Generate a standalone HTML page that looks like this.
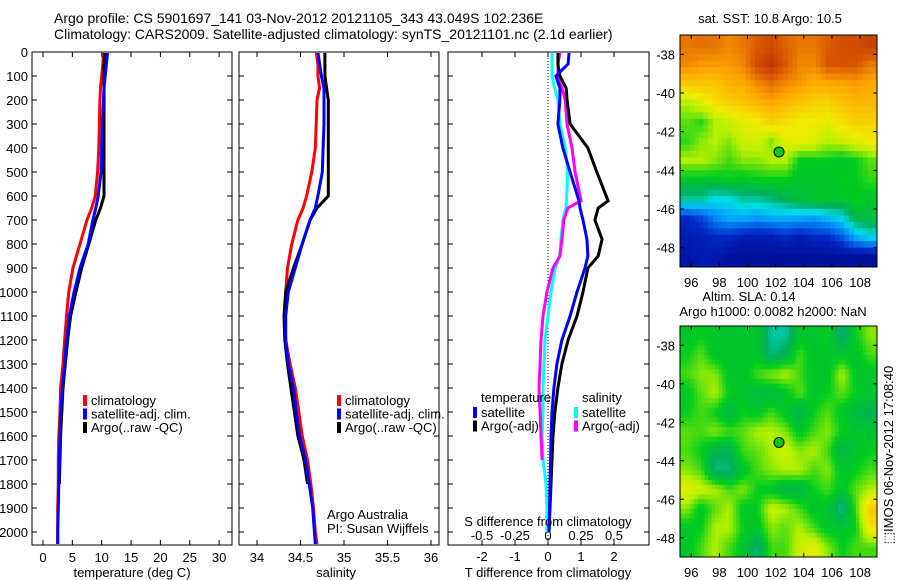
<!DOCTYPE html>
<html><head><meta charset="utf-8">
<style>
html,body{margin:0;padding:0;background:#fff;}
svg{display:block;font-family:"Liberation Sans",sans-serif;}
text{font-size:13px;fill:#000;}
</style></head>
<body>
<svg id="chart" width="900" height="580" viewBox="0 0 900 580">
<defs>
<clipPath id="clipM1"><rect x="680" y="35" width="197" height="232"/></clipPath>
<clipPath id="clipM2"><rect x="680" y="326" width="197" height="231"/></clipPath>
<clipPath id="clipP1"><rect x="33" y="53" width="199" height="492"/></clipPath>
<clipPath id="clipP2"><rect x="240" y="53" width="199" height="492"/></clipPath>
<clipPath id="clipP3"><rect x="449" y="53" width="200" height="492"/></clipPath>
</defs>
<text x="54" y="23" style="font-size:14px">Argo profile: CS 5901697_141 03-Nov-2012 20121105_343 43.049S 102.236E</text>
<text x="54" y="39" style="font-size:14px">Climatology: CARS2009. Satellite-adjusted climatology: synTS_20121101.nc (2.1d earlier)</text>
<g id="p1"></g>
<g id="p2"></g>
<g id="p3"></g>
<g id="m1"></g>
<g id="m2"></g>
<text x="770" y="23" text-anchor="middle">sat. SST: 10.8 Argo: 10.5</text>
<text x="749" y="301" text-anchor="middle">Altim. SLA: 0.14</text>
<text x="773" y="316" text-anchor="middle">Argo h1000: 0.0082 h2000: NaN</text>
<text transform="translate(893,455) rotate(-90)" text-anchor="middle">⬚IMOS 06-Nov-2012 17:08:40</text>
</svg>
<script>
// ---- profile data ----
const depthT = [0,50,100,150,200,300,400,500,600,650,700,800,900,1000,1100,1200,1300,1400,1500,1600,1700,1800,1900,2000,2050];
const tempClim = [10.3,10.2,10.0,9.8,9.7,9.6,9.5,9.3,8.9,8.3,7.5,6.3,5.1,4.4,4.0,3.7,3.4,3.0,2.9,2.7,2.6,2.6,2.5,2.5,2.5];
const tempSat  = [11.0,10.8,10.6,10.4,10.3,10.1,10.0,9.9,9.4,9.0,8.5,7.7,6.3,5.3,4.5,4.0,3.7,3.3,3.0,2.9,2.8,2.7,2.6,2.5,2.5];
const tempArgo = [10.5,10.4,10.4,10.4,10.4,10.4,10.4,10.4,10.4,9.8,9.0,7.8,6.6,5.6,4.7,4.2,3.8,3.4,3.2,3.0,2.9,2.8,null,null,null];
const salClim = [34.68,34.70,34.70,34.72,34.69,34.68,34.67,34.63,34.57,34.53,34.47,34.40,34.35,34.33,34.32,34.33,34.38,34.44,34.48,34.52,34.58,34.62,34.65,34.67,34.69];
const salSat  = [34.70,34.72,34.74,34.77,34.77,34.77,34.76,34.75,34.70,34.67,34.61,34.52,34.44,34.36,34.33,34.33,34.36,34.42,34.45,34.49,34.56,34.60,34.64,34.66,34.67];
const salArgo = [34.78,34.78,34.78,34.80,34.82,34.82,34.82,34.82,34.82,34.69,34.61,34.52,34.42,34.33,34.31,34.32,34.35,34.39,34.43,34.47,34.54,34.58,null,null,null];
const depthD = [0,50,100,150,200,300,400,500,620,650,700,780,850,900,1000,1100,1200,1300,1400,1500,1600,1700,1800,1900,2000];
const dTsat  = [0.64,0.61,0.24,0.36,0.36,0.30,0.45,0.67,0.94,0.97,1.06,1.18,1.21,1.12,0.88,0.67,0.42,0.27,0.18,0.12,0.09,0.08,0.06,0.05,0.03];
const dTargo = [0.30,0.30,0.36,0.55,0.58,0.67,1.21,1.48,1.82,1.52,1.42,1.64,1.52,1.21,1.06,0.88,0.61,0.42,0.30,0.21,0.15,0.12,0.09,0.06,0.03];
const dSsat  = [0.03,0.03,0.03,0.05,0.076,0.09,0.13,0.15,0.14,0.136,0.114,0.098,0.09,0.053,0.023,0,-0.023,-0.03,-0.038,-0.038,-0.045,-0.038,-0.015,-0.008,-0.008];
const dSargo = [0.09,0.076,0.076,0.106,0.13,0.144,0.182,0.205,0.25,0.15,0.12,0.106,0.09,0.038,-0.008,-0.038,-0.053,-0.06,-0.068,-0.06,-0.053,-0.045,null,null,null];
const depthTicks = [0,100,200,300,400,500,600,700,800,900,1000,1100,1200,1300,1400,1500,1600,1700,1800,1900,2000];
const tempTicks = [0,5,10,15,20,25,30];
const salTicks = [34,34.5,35,35.5,36];
const dTTicks = [-2,-1,0,1,2];
const dSTicks = [-0.5,-0.25,0,0.25,0.5];
const dSTickLabels = ['-0.5','-0.25','0','0.25','0.5'];
const lonTicks = [96,98,100,102,104,106,108];
const latTicks = [-38,-40,-42,-44,-46,-48];
const sstGrid = [
[0.82,0.83,0.82,0.80,0.82,0.85,0.88,0.84,0.82,0.82,0.85,0.87,0.88,0.90],
[0.80,0.78,0.78,0.78,0.80,0.88,0.92,0.86,0.80,0.80,0.86,0.86,0.86,0.82],
[0.72,0.72,0.72,0.75,0.76,0.80,0.83,0.80,0.78,0.75,0.76,0.77,0.78,0.76],
[0.60,0.64,0.68,0.70,0.72,0.74,0.76,0.74,0.72,0.70,0.70,0.72,0.74,0.74],
[0.56,0.54,0.60,0.62,0.65,0.66,0.70,0.68,0.66,0.66,0.65,0.68,0.70,0.70],
[0.54,0.58,0.60,0.58,0.62,0.63,0.58,0.64,0.65,0.64,0.60,0.62,0.64,0.66],
[0.60,0.60,0.58,0.55,0.58,0.58,0.60,0.60,0.52,0.52,0.52,0.50,0.52,0.56],
[0.50,0.50,0.50,0.52,0.50,0.52,0.52,0.52,0.50,0.50,0.50,0.52,0.52,0.54],
[0.40,0.40,0.36,0.36,0.40,0.40,0.42,0.45,0.48,0.50,0.50,0.50,0.52,0.50],
[0.15,0.18,0.26,0.30,0.30,0.28,0.30,0.30,0.30,0.28,0.32,0.35,0.46,0.48],
[0.10,0.12,0.14,0.14,0.10,0.10,0.10,0.14,0.10,0.14,0.14,0.20,0.30,0.34],
[0.08,0.10,0.10,0.06,0.06,0.06,0.06,0.06,0.06,0.06,0.06,0.06,0.06,0.06]];
const slaGrid = [
[0.50,0.52,0.50,0.50,0.50,0.50,0.40,0.40,0.50,0.50,0.52,0.42,0.52,0.58],
[0.52,0.56,0.50,0.50,0.50,0.50,0.42,0.45,0.55,0.50,0.50,0.50,0.50,0.55],
[0.55,0.58,0.58,0.50,0.50,0.55,0.58,0.60,0.55,0.50,0.50,0.60,0.50,0.50],
[0.50,0.56,0.60,0.52,0.50,0.48,0.47,0.50,0.56,0.50,0.52,0.56,0.52,0.50],
[0.52,0.55,0.52,0.46,0.52,0.50,0.55,0.50,0.45,0.52,0.56,0.50,0.47,0.45],
[0.56,0.55,0.58,0.55,0.56,0.60,0.60,0.58,0.50,0.55,0.58,0.52,0.50,0.50],
[0.55,0.52,0.45,0.45,0.55,0.56,0.60,0.62,0.58,0.60,0.55,0.45,0.50,0.52],
[0.58,0.55,0.42,0.42,0.50,0.55,0.58,0.60,0.60,0.55,0.58,0.50,0.52,0.55],
[0.65,0.62,0.60,0.55,0.58,0.52,0.50,0.46,0.46,0.52,0.55,0.50,0.56,0.60],
[0.58,0.50,0.56,0.60,0.50,0.52,0.62,0.60,0.55,0.50,0.50,0.40,0.55,0.72],
[0.50,0.52,0.60,0.60,0.52,0.50,0.58,0.56,0.60,0.55,0.50,0.50,0.52,0.68],
[0.50,0.55,0.60,0.55,0.50,0.42,0.55,0.55,0.62,0.65,0.58,0.52,0.55,0.55]];
const argoLon = 102.236, argoLat = -43.049;

const NS='http://www.w3.org/2000/svg';
function mk(parent,tag,attrs){const e=document.createElementNS(NS,tag);for(const k in attrs)e.setAttribute(k,attrs[k]);parent.appendChild(e);return e;}
const Y0=52, PXD=0.24;
const yD=d=>Y0+d*PXD;
const xT=v=>43+v*5.87;
const xS=v=>257+(v-34)*87;
const xDT=v=>548+v*33;
const xDS=v=>548+v*132;

function frame(g,x0,x1,y0,y1,name){
  const r=mk(g,'rect',{x:x0,y:y0,width:x1-x0,height:y1-y0,fill:'none',stroke:'#000','stroke-width':1});
  
  
}
function line(g,xs,ds,fx,color,name,clip){
  let segs=[],cur=[];
  for(let i=0;i<xs.length;i++){
    if(xs[i]===null){if(cur.length)segs.push(cur);cur=[];continue;}
    cur.push(fx(xs[i]).toFixed(1)+','+yD(ds[i]).toFixed(1));
  }
  if(cur.length)segs.push(cur);
  segs.forEach(s=>{
    const p=mk(g,'polyline',{points:s.join(' '),fill:'none',stroke:color,'stroke-width':3,'clip-path':'url(#'+clip+')'});
    
    
  });
}
function yTicks(g,x0,x1){
  depthTicks.forEach(d=>{
    mk(g,'line',{x1:x0,x2:x0+5,y1:yD(d),y2:yD(d),stroke:'#000'});
    mk(g,'line',{x1:x1-5,x2:x1,y1:yD(d),y2:yD(d),stroke:'#000'});
  });
}
function xTicks(g,ticks,fx,labels,ly,name){
  ticks.forEach((v,i)=>{
    const x=fx(v);
    mk(g,'line',{x1:x,x2:x,y1:545,y2:540,stroke:'#000'});
    mk(g,'line',{x1:x,x2:x,y1:52,y2:57,stroke:'#000'});
    if(ly){const t=mk(g,'text',{x:x,y:ly,'text-anchor':'middle'});t.textContent=labels[i];
      
      }
  });
}
function legend(g,x,y,items){
  items.forEach((it,i)=>{
    mk(g,'rect',{x:x,y:y+i*13.5-10,width:4,height:11,fill:it[0]});
    const t=mk(g,'text',{x:x+8,y:y+i*13.5});t.textContent=it[1];
    
    
  });
}
// Panel 1
const p1=document.getElementById('p1');
frame(p1,32,232,52,545,'temperature-axes');
yTicks(p1,32,232);
depthTicks.forEach(d=>{const t=mk(p1,'text',{x:28,y:yD(d)+5,'text-anchor':'end'});t.textContent=d;
  
  });
xTicks(p1,tempTicks,xT,tempTicks.map(String),562,'temperature-tick-label');
line(p1,tempClim,depthT,xT,'#f00','temperature-climatology-line','clipP1');
line(p1,tempArgo,depthT,xT,'#000','temperature-argo-line','clipP1');
line(p1,tempSat,depthT,xT,'#00f','temperature-satellite-line','clipP1');
legend(p1,83,405,[['#f00','climatology'],['#00f','satellite-adj. clim.'],['#000','Argo(..raw -QC)']]);
{const t=mk(p1,'text',{x:132,y:577,'text-anchor':'middle'});t.textContent='temperature (deg C)';

}
// Panel 2
const p2=document.getElementById('p2');
frame(p2,239,439,52,545,'salinity-axes');
yTicks(p2,239,439);
xTicks(p2,salTicks,xS,['34','34.5','35','35.5','36'],562,'salinity-tick-label');
line(p2,salClim,depthT,xS,'#f00','salinity-climatology-line','clipP2');
line(p2,salArgo,depthT,xS,'#000','salinity-argo-line','clipP2');
line(p2,salSat,depthT,xS,'#00f','salinity-satellite-line','clipP2');
legend(p2,337,405,[['#f00','climatology'],['#00f','satellite-adj. clim.'],['#000','Argo(..raw -QC)']]);
{const t=mk(p2,'text',{x:327,y:519});t.textContent='Argo Australia';


const t2=mk(p2,'text',{x:327,y:533});t2.textContent='PI: Susan Wijffels';


const t3=mk(p2,'text',{x:336,y:577,'text-anchor':'middle'});t3.textContent='salinity';

}
// Panel 3
const p3=document.getElementById('p3');
frame(p3,448,649,52,545,'difference-axes');
yTicks(p3,448,649);
xTicks(p3,dTTicks,xDT,['-2','-1','0','1','2'],561,'t-diff-tick-label');
dSTicks.forEach((v,i)=>{const t=mk(p3,'text',{x:xDS(v),y:540,'text-anchor':'middle'});t.textContent=dSTickLabels[i];
  
  });
mk(p3,'line',{x1:548,x2:548,y1:52,y2:545,stroke:'#000','stroke-dasharray':'1,2'});
line(p3,dSsat,depthD,xDS,'#0ff','salinity-satellite-diff-line','clipP3');
line(p3,dSargo,depthD,xDS,'#f0f','salinity-argo-diff-line','clipP3');
line(p3,dTargo,depthD,xDT,'#000','temperature-argo-diff-line','clipP3');
line(p3,dTsat,depthD,xDT,'#00f','temperature-satellite-diff-line','clipP3');
{const t=mk(p3,'text',{x:481,y:402});t.textContent='temperature';


const t2=mk(p3,'text',{x:582,y:402});t2.textContent='salinity';

}
legend(p3,473,417,[['#00f','satellite'],['#000','Argo(-adj)']]);
legend(p3,574,417,[['#0ff','satellite'],['#f0f','Argo(-adj)']]);
{const t=mk(p3,'text',{x:548,y:526,'text-anchor':'middle'});t.textContent='S difference from climatology';


const t2=mk(p3,'text',{x:548,y:577,'text-anchor':'middle'});t2.textContent='T difference from climatology';

}

// colormap
const stops=[[0,[0,0,125]],[0.15,[0,40,200]],[0.28,[0,150,255]],[0.36,[0,220,230]],[0.44,[0,175,90]],[0.52,[0,205,30]],[0.6,[180,240,0]],[0.66,[240,235,0]],[0.76,[255,170,0]],[0.86,[215,85,0]],[1,[160,20,10]]];
function cmap(v){
  for(let i=1;i<stops.length;i++){if(v<=stops[i][0]){const a=stops[i-1],b=stops[i],t=(v-a[0])/(b[0]-a[0]);
    return 'rgb('+a[1].map((c,k)=>Math.round(c+(b[1][k]-c)*t)).join(',')+')';}}
  return 'rgb(160,20,10)';
}
// bilinear sample of grid at fractional cell coords (cell centres at i+0.5)
function sample(grid,fr,fc){
  const nr=grid.length,nc=grid[0].length;
  let r=fr-0.5,c=fc-0.5;
  r=Math.max(0,Math.min(nr-1,r));c=Math.max(0,Math.min(nc-1,c));
  const r0=Math.floor(r),c0=Math.floor(c),r1=Math.min(nr-1,r0+1),c1=Math.min(nc-1,c0+1);
  const tr=r-r0,tc=c-c0;
  return grid[r0][c0]*(1-tr)*(1-tc)+grid[r0][c1]*(1-tr)*tc+grid[r1][c0]*tr*(1-tc)+grid[r1][c1]*tr*tc;
}
function drawMap(gid,grid,top,bot,clip,sub,name){
  const g=document.getElementById(gid);
  const L=680,R=877,lon0=95.2,lon1=109.2,lat0=-37,lat1=-49;
  const xL=lo=>L+(lo-lon0)*(R-L)/(lon1-lon0);
  const yL=la=>top+(la-lat0)*(bot-top)/(lat1-lat0);
  const cells=mk(g,'g',{'clip-path':'url(#'+clip+')'});
  const nr=grid.length, nc=grid[0].length;
  const cw=(R-L)/nc/sub, ch=(bot-top)/nr/sub;
  for(let r=0;r<nr*sub;r++){for(let c=0;c<nc*sub;c++){
    const v=sample(grid,(r+0.5)/sub,(c+0.5)/sub);
    const rc=mk(cells,'rect',{x:(xL(lon0)+c*cw).toFixed(2),y:(top+r*ch).toFixed(2),width:(cw+0.5).toFixed(2),height:(ch+0.5).toFixed(2),fill:cmap(v)});
    
    
  }}
  const f=mk(g,'rect',{x:L,y:top,width:R-L,height:bot-top,fill:'none',stroke:'#000'});
  
  
  lonTicks.forEach(lo=>{const x=xL(lo);
    mk(g,'line',{x1:x,x2:x,y1:top,y2:top+4,stroke:'#000'});
    mk(g,'line',{x1:x,x2:x,y1:bot,y2:bot-4,stroke:'#000'});
    const t=mk(g,'text',{x:x,y:bot+20,'text-anchor':'middle'});t.textContent=lo;
    
    });
  latTicks.forEach(la=>{const y=yL(la);
    mk(g,'line',{x1:L,x2:L+4,y1:y,y2:y,stroke:'#000'});
    mk(g,'line',{x1:R,x2:R-4,y1:y,y2:y,stroke:'#000'});
    const t=mk(g,'text',{x:675,y:y+5,'text-anchor':'end'});t.textContent=la;
    
    });
  const m=mk(g,'circle',{cx:xL(argoLon),cy:yL(argoLat),r:5,fill:'#0c0',stroke:'#000'});
  
  
}
drawMap('m1',sstGrid,35,267,'clipM1',3,'sst-map');
drawMap('m2',slaGrid,326,557,'clipM2',4,'sla-map');
</script>
</body></html>
